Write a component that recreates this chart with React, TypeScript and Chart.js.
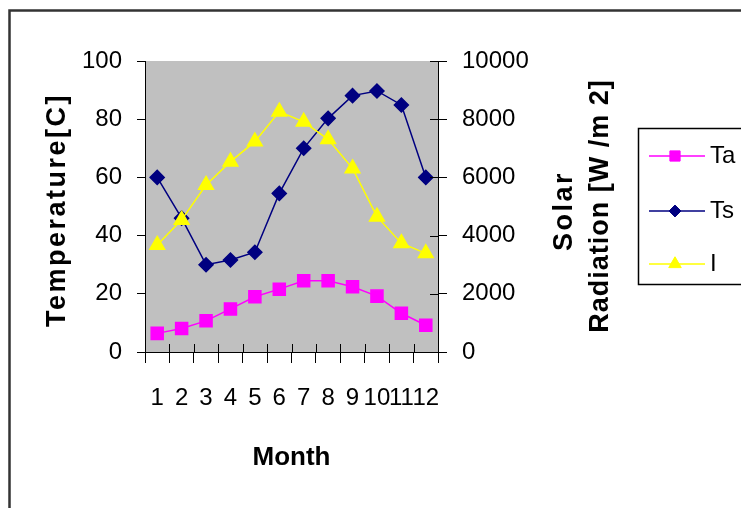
import React, { useEffect, useRef } from 'react';
import { Chart, registerables } from 'chart.js';
import { drawPoint } from 'chart.js/helpers';

Chart.register(...registerables);

// ---- data ----
const months = ['1', '2', '3', '4', '5', '6', '7', '8', '9', '10', '11', '12'];
const taValues = [6.4, 8.1, 10.7, 14.8, 19.0, 21.6, 24.5, 24.5, 22.4, 19.2, 13.3, 9.2];
const tsValues = [60, 46, 30, 31.6, 34.3, 54.5, 70, 80.3, 88.1, 89.7, 84.9, 60];
const iValues = [3680, 4540, 5740, 6540, 7230, 8260, 7910, 7310, 6310, 4650, 3740, 3390];
const seriesNames = ['Ta', 'Ts', 'I'];
const leftTitle = 'Temperature[C]';
const rightTitleLines = ['Solar', 'Radiation [W /m 2]'];
const xTitle = 'Month';

const FAMILY = "'Liberation Sans', Arial, sans-serif";

const decor = {
  id: 'decor',
  beforeDraw(chart: any) {
    const { ctx, chartArea: a, width, height } = chart;
    ctx.save();
    ctx.fillStyle = '#ffffff';
    ctx.fillRect(0, 0, width, height);
    ctx.strokeStyle = '#333333';
    ctx.lineWidth = 2.5;
    ctx.strokeRect(9.5, 10.5, width + 40, height + 40);
    ctx.fillStyle = '#c0c0c0';
    ctx.fillRect(a.left, a.top, a.right - a.left, a.bottom - a.top);
    ctx.restore();
  },
  afterDraw(chart: any) {
    const { ctx, chartArea: a } = chart;
    const xs = chart.scales.x;
    const y1 = chart.scales.y1;
    ctx.save();
    // inner parts of crossing tick marks
    ctx.strokeStyle = '#000';
    ctx.lineWidth = 1;
    ctx.beginPath();
    for (let i = 0; i <= months.length; i++) {
      const x = Math.round(xs.getPixelForValue(i - 0.5)) + 0.5;
      ctx.moveTo(x, a.bottom - 8);
      ctx.lineTo(x, a.bottom);
    }
    y1.ticks.forEach((t: any) => {
      const y = Math.round(y1.getPixelForValue(t.value)) + 0.5;
      ctx.moveTo(a.right - 8, y);
      ctx.lineTo(a.right, y);
    });
    ctx.stroke();

    // axis titles
    ctx.fillStyle = '#000';
    ctx.font = `bold 27px ${FAMILY}`;
    ctx.textAlign = 'center';
    ctx.textBaseline = 'alphabetic';
    (ctx as any).letterSpacing = '2.5px';
    ctx.save();
    ctx.translate(65, 210);
    ctx.rotate(-Math.PI / 2);
    ctx.fillText(leftTitle, 0, 0);
    ctx.restore();
    ctx.save();
    ctx.translate(572, 211);
    ctx.rotate(-Math.PI / 2);
    ctx.fillText(rightTitleLines[0], 0, 0);
    ctx.restore();
    (ctx as any).letterSpacing = '1px';
    ctx.save();
    ctx.translate(608, 206);
    ctx.rotate(-Math.PI / 2);
    ctx.fillText(rightTitleLines[1], 0, 0);
    ctx.restore();
    (ctx as any).letterSpacing = '0px';
    ctx.font = `bold 26px ${FAMILY}`;
    ctx.fillText(xTitle, (a.left + a.right) / 2, 465);

    // legend
    ctx.fillStyle = '#fff';
    ctx.fillRect(638, 128, 200, 157);
    ctx.strokeStyle = '#000';
    ctx.lineWidth = 1.5;
    ctx.strokeRect(638.5, 128.5, 200, 156);
    const rows = [156, 211, 264];
    chart.data.datasets.forEach((ds: any, i: number) => {
      const y = rows[i];
      ctx.strokeStyle = ds.borderColor;
      ctx.lineWidth = 1.5;
      ctx.beginPath();
      ctx.moveTo(649, y);
      ctx.lineTo(705, y);
      ctx.stroke();
      ctx.fillStyle = ds.pointBackgroundColor;
      ctx.strokeStyle = ds.pointBorderColor;
      ctx.lineWidth = 1;
      drawPoint(ctx, { pointStyle: ds.pointStyle, rotation: 0, radius: ds.pointRadius * 0.85, borderWidth: 1 } as any, 675, y);
      ctx.fillStyle = '#000';
      ctx.font = `24px ${FAMILY}`;
      ctx.textAlign = 'left';
      ctx.textBaseline = 'middle';
      ctx.fillText(ds.label, 710, y);
    });
    ctx.restore();
  },
};

export default function App() {
  const ref = useRef<HTMLCanvasElement | null>(null);
  useEffect(() => {
    if (!ref.current) return;
    const tickFont = { family: FAMILY, size: 24 };
    const plain = (v: any) => String(v);
    const chart = new Chart(ref.current, {
      type: 'line',
      data: {
        labels: months,
        datasets: [
          {
            label: seriesNames[0],
            data: taValues,
            yAxisID: 'y',
            borderColor: '#ff00ff',
            backgroundColor: '#ff00ff',
            pointBackgroundColor: '#ff00ff',
            pointBorderColor: '#ff00ff',
            pointStyle: 'rect',
            pointRadius: 8.5,
            borderWidth: 1.5,
            order: 2,
          },
          {
            label: seriesNames[1],
            data: tsValues,
            yAxisID: 'y',
            borderColor: '#000080',
            backgroundColor: '#000080',
            pointBackgroundColor: '#000080',
            pointBorderColor: '#000080',
            pointStyle: 'rectRot',
            pointRadius: 7,
            borderWidth: 1.5,
            order: 1,
          },
          {
            label: seriesNames[2],
            data: iValues,
            yAxisID: 'y1',
            borderColor: '#ffff00',
            backgroundColor: '#ffff00',
            pointBackgroundColor: '#ffff00',
            pointBorderColor: '#ffff00',
            pointStyle: 'triangle',
            pointRadius: 8.5,
            borderWidth: 1.5,
            order: 0,
          },
        ],
      } as any,
      options: {
        responsive: false,
        animation: false,
        devicePixelRatio: 1,
        layout: { padding: { left: 0, right: 203, top: 61, bottom: 96 } },
        plugins: { legend: { display: false }, tooltip: { enabled: false }, title: { display: false } },
        scales: {
          x: {
            type: 'category',
            offset: true,
            grid: { offset: true, drawOnChartArea: false, tickLength: 11, color: '#000', tickColor: '#000' },
            border: { display: true, color: '#000', width: 1 },
            ticks: { color: '#000', font: tickFont, padding: 21, autoSkip: false, maxRotation: 0, minRotation: 0 },
            afterFit: (s: any) => { s.height = 60; },
          },
          y: {
            position: 'left',
            min: 0,
            max: 100,
            grid: { drawOnChartArea: false, tickLength: 8, color: '#000', tickColor: '#000' },
            border: { display: true, color: '#000', width: 1 },
            ticks: { stepSize: 20, color: '#000', font: tickFont, padding: 15, callback: plain },
            afterFit: (s: any) => { s.width = 145; },
          },
          y1: {
            position: 'right',
            min: 0,
            max: 10000,
            grid: { drawOnChartArea: false, tickLength: 9, color: '#000', tickColor: '#000' },
            border: { display: true, color: '#000', width: 1 },
            ticks: { stepSize: 2000, color: '#000', font: tickFont, padding: 15, callback: plain },
            afterFit: (s: any) => { s.width = 100; },
          },
        },
      } as any,
      plugins: [decor],
    });
    return () => chart.destroy();
  }, []);
  return (
    <div style={{ position: 'absolute', left: 0, top: 0, width: 741, height: 508 }}>
      <canvas ref={ref} width={741} height={508} style={{ display: 'block' }} />
    </div>
  );
}
